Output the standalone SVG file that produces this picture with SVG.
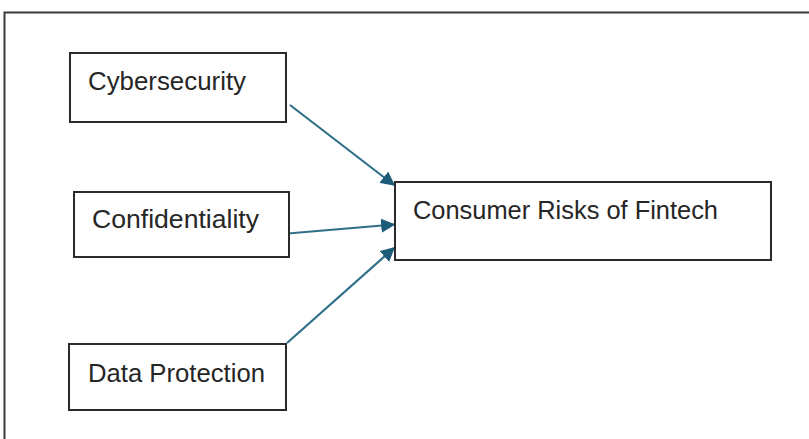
<svg xmlns="http://www.w3.org/2000/svg" width="809" height="439" viewBox="0 0 809 439">
  <style>
    .box { fill: #ffffff; stroke: #2b2b2b; stroke-width: 2; }
    .label { font-family: "Liberation Sans", Arial, sans-serif; font-size: 25px; fill: #262626; }
    .edge { stroke: #2f6f87; stroke-width: 2.2; fill: none; marker-end: url(#arrow); }
  </style>
  <defs>
    <marker id="arrow" viewBox="0 0 10 10" refX="9" refY="5" markerWidth="6.5" markerHeight="6.5" orient="auto" markerUnits="strokeWidth">
      <path d="M0,0 L10,5 L0,10 z" fill="#1d5c78"/>
    </marker>
  </defs>

  <rect width="809" height="439" fill="#ffffff"/>
  <!-- outer frame (open on right and bottom) -->
  <path d="M4.5,439 V12.5 H809" fill="none" stroke="#3a3a3a" stroke-width="2"/>

  <g id="connectors">
    <line class="edge" x1="290" y1="105" x2="394" y2="185"/>
    <line class="edge" x1="282" y1="234" x2="394" y2="224.5"/>
    <line class="edge" x1="287" y1="343" x2="394" y2="248"/>
  </g>

  <g id="node-cybersecurity">
    <rect class="box" x="70" y="53" width="216" height="69"/>
    <text class="label" x="88" y="90" textLength="158" lengthAdjust="spacingAndGlyphs">Cybersecurity</text>
  </g>

  <g id="node-confidentiality">
    <rect class="box" x="74" y="192" width="215" height="65"/>
    <text class="label" x="92" y="228" textLength="167" lengthAdjust="spacingAndGlyphs">Confidentiality</text>
  </g>

  <g id="node-data-protection">
    <rect class="box" x="69" y="344" width="217" height="66"/>
    <text class="label" x="88" y="382" textLength="177" lengthAdjust="spacingAndGlyphs">Data Protection</text>
  </g>

  <g id="node-consumer-risks">
    <rect class="box" x="395" y="182" width="376" height="78"/>
    <text class="label" x="413" y="219" textLength="305" lengthAdjust="spacingAndGlyphs">Consumer Risks of Fintech</text>
  </g>
</svg>
